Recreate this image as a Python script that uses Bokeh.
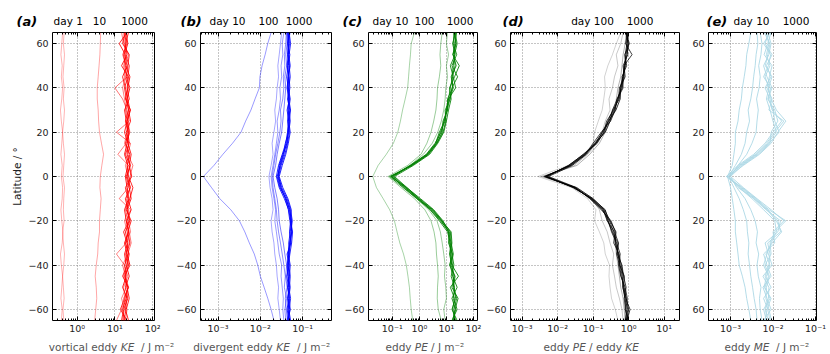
from bokeh.plotting import figure
from bokeh.models import LogAxis, LinearAxis, FixedTicker, Range1d
from bokeh.layouts import row, column
from bokeh.embed import file_html
from bokeh.resources import INLINE
from bokeh.core.properties import value

FONT = "DejaVu Sans"

# latitude (deg), south to north
lat = [-65, -60, -55, -50, -45, -40, -35, -30, -25, -20, -15, -10, -5, 0,
       5, 10, 15, 20, 25, 30, 35, 40, 45, 50, 55, 60, 65]

# ---------------- (a) vortical eddy KE  [J m-2]
a_day1 = [0.38, 0.40, 0.37, 0.39, 0.41, 0.38, 0.36, 0.40, 0.42, 0.39, 0.37, 0.40, 0.41, 0.38,
          0.40, 0.37, 0.39, 0.41, 0.38, 0.36, 0.39, 0.41, 0.38, 0.40, 0.37, 0.39, 0.41]
a_day1b = [0.44, 0.42, 0.45, 0.43, 0.41, 0.44, 0.46, 0.43, 0.41, 0.45, 0.43, 0.44, 0.46, 0.42,
           0.44, 0.46, 0.43, 0.41, 0.44, 0.46, 0.43, 0.45, 0.42, 0.44, 0.46, 0.43, 0.45]
a_day10 = [2.9, 3.1, 3.3, 3.2, 3.0, 3.2, 3.5, 3.6, 3.9, 3.9, 4.1, 4.3, 4.0, 4.1,
           4.5, 5.0, 4.4, 3.9, 3.7, 3.6, 3.4, 3.4, 3.6, 3.8, 4.0, 4.1, 4.2]
a_late1 = [16, 18, 15, 20, 17, 22, 19, 24, 21, 18, 23, 20, 25, 22, 19, 24, 18, 21, 23, 20, 18, 16, 19, 17, 20, 18, 17]
a_late2 = [11, 15, 19, 17, 22, 18, 11, 20, 26, 23, 19, 24, 21, 27, 23, 12, 20, 25, 22, 19, 21, 23, 18, 20, 16, 21, 19]
a_late3 = [19, 21, 17, 23, 19, 16, 22, 27, 24, 20, 26, 13, 23, 25, 30, 22, 26, 11, 24, 21, 16, 10, 21, 18, 23, 17, 15]
a_late4 = [15, 17, 22, 19, 24, 20, 18, 22, 19, 25, 21, 27, 24, 20, 26, 21, 23, 20, 26, 23, 20, 18, 22, 24, 19, 13, 21]
a_late5 = [21, 14, 18, 23, 16, 21, 24, 19, 23, 21, 27, 22, 19, 28, 24, 27, 22, 18, 21, 25, 22, 19, 16, 21, 18, 22, 20]
a_late6 = [17, 20, 24, 21, 19, 23, 20, 25, 22, 27, 20, 25, 30, 23, 21, 25, 19, 23, 20, 18, 24, 21, 23, 15, 21, 19, 23]
a_late7 = [23, 19, 21, 16, 20, 18, 23, 21, 17, 24, 22, 19, 26, 21, 25, 19, 24, 22, 19, 23, 21, 25, 20, 22, 24, 16, 19]
a_late8 = [18, 16, 20, 22, 18, 25, 21, 18, 23, 20, 18, 23, 21, 19, 22, 18, 21, 24, 21, 26, 19, 22, 25, 19, 17, 20, 18]

# ---------------- (b) divergent eddy KE  [J m-2]
b_day10 = [0.021, 0.018, 0.015, 0.0123, 0.010, 0.0087, 0.0072, 0.0055, 0.0043, 0.0032, 0.0020, 0.0011, 0.0007, 0.00045,
           0.0008, 0.0013, 0.0022, 0.0035, 0.0045, 0.006, 0.0075, 0.0095, 0.0098, 0.011, 0.013, 0.015, 0.018]
b_mid1 = [0.030, 0.028, 0.026, 0.027, 0.025, 0.024, 0.022, 0.021, 0.019, 0.018, 0.020, 0.019, 0.017, 0.016,
          0.018, 0.020, 0.019, 0.021, 0.023, 0.022, 0.024, 0.025, 0.027, 0.026, 0.028, 0.030, 0.032]
b_mid2 = [0.036, 0.034, 0.035, 0.033, 0.031, 0.032, 0.028, 0.026, 0.024, 0.022, 0.023, 0.021, 0.019, 0.018,
          0.020, 0.022, 0.024, 0.026, 0.025, 0.028, 0.030, 0.029, 0.032, 0.031, 0.034, 0.033, 0.036]
b_mid3 = [0.040, 0.038, 0.042, 0.037, 0.039, 0.036, 0.033, 0.030, 0.027, 0.025, 0.024, 0.022, 0.020, 0.019,
          0.021, 0.023, 0.026, 0.029, 0.031, 0.030, 0.034, 0.036, 0.035, 0.038, 0.037, 0.040, 0.041]
b_mid4 = [0.044, 0.041, 0.039, 0.043, 0.040, 0.042, 0.038, 0.035, 0.031, 0.028, 0.027, 0.025, 0.022, 0.020,
          0.023, 0.025, 0.028, 0.032, 0.034, 0.036, 0.038, 0.040, 0.038, 0.042, 0.040, 0.043, 0.042]
b_late1 = [0.046, 0.050, 0.044, 0.048, 0.045, 0.043, 0.047, 0.052, 0.055, 0.054, 0.050, 0.040, 0.030, 0.026,
           0.029, 0.035, 0.042, 0.046, 0.049, 0.045, 0.048, 0.044, 0.047, 0.043, 0.046, 0.049, 0.045]
b_late2 = [0.050, 0.045, 0.049, 0.044, 0.048, 0.046, 0.050, 0.055, 0.058, 0.052, 0.047, 0.037, 0.028, 0.024,
           0.027, 0.033, 0.040, 0.044, 0.046, 0.050, 0.044, 0.048, 0.045, 0.049, 0.044, 0.047, 0.050]
b_late3 = [0.043, 0.048, 0.052, 0.047, 0.042, 0.049, 0.045, 0.050, 0.053, 0.057, 0.052, 0.043, 0.032, 0.027,
           0.031, 0.038, 0.044, 0.049, 0.044, 0.047, 0.051, 0.046, 0.042, 0.046, 0.050, 0.044, 0.047]
b_late4 = [0.048, 0.043, 0.047, 0.051, 0.046, 0.044, 0.049, 0.047, 0.051, 0.055, 0.049, 0.041, 0.029, 0.025,
           0.030, 0.036, 0.039, 0.047, 0.051, 0.048, 0.046, 0.050, 0.048, 0.044, 0.048, 0.052, 0.048]
b_late5 = [0.052, 0.047, 0.045, 0.049, 0.051, 0.047, 0.043, 0.053, 0.049, 0.052, 0.054, 0.045, 0.034, 0.028,
           0.033, 0.040, 0.046, 0.051, 0.047, 0.043, 0.049, 0.047, 0.051, 0.048, 0.045, 0.046, 0.044]
b_late6 = [0.045, 0.051, 0.048, 0.045, 0.049, 0.051, 0.046, 0.049, 0.056, 0.050, 0.046, 0.039, 0.031, 0.027,
           0.028, 0.034, 0.043, 0.045, 0.048, 0.052, 0.047, 0.043, 0.046, 0.051, 0.047, 0.045, 0.049]

# ---------------- (c) eddy PE  [J m-2]
c_day10 = [0.57, 0.50, 0.46, 0.43, 0.38, 0.33, 0.26, 0.19, 0.15, 0.12, 0.08, 0.046, 0.026, 0.019,
           0.030, 0.060, 0.11, 0.16, 0.20, 0.24, 0.30, 0.37, 0.40, 0.43, 0.47, 0.50, 0.66]
c_day100 = [6.5, 5.0, 4.6, 4.7, 5.0, 4.7, 4.3, 4.1, 3.5, 2.7, 1.6, 0.66, 0.21, 0.07,
            0.37, 1.15, 1.9, 2.7, 3.4, 4.1, 4.5, 4.7, 5.5, 6.2, 5.8, 6.2, 7.0]
c_day300 = [9.0, 8.0, 10, 9.5, 8.5, 9.0, 8.0, 7.0, 6.0, 4.5, 2.2, 0.8, 0.3, 0.09,
            0.45, 1.4, 3.0, 4.8, 6.5, 8.0, 9.0, 9.5, 11, 10, 12, 10, 11]
c_late1 = [18, 22, 16, 25, 17, 14, 15, 13, 12, 6.5, 2.8, 0.95, 0.30, 0.09, 0.50, 2.0, 4.2, 6.0, 9.0, 10, 12, 14, 17, 21, 19, 22, 20]
c_late2 = [22, 17, 20, 14, 28, 16, 13, 15, 14, 7.0, 3.0, 0.85, 0.27, 0.10, 0.45, 1.8, 3.8, 6.5, 8.0, 11, 13, 18, 15, 23, 18, 20, 24]
c_late3 = [16, 25, 18, 20, 15, 19, 16, 14, 11, 5.5, 2.5, 0.80, 0.25, 0.08, 0.55, 2.2, 4.5, 7.5, 9.5, 9.0, 14, 16, 26, 16, 24, 18, 19]
c_late4 = [20, 19, 24, 18, 21, 13, 17, 12, 13, 6.0, 2.6, 0.90, 0.32, 0.11, 0.48, 1.9, 4.0, 5.5, 8.5, 10, 12, 22, 18, 14, 21, 17, 22]
c_late5 = [25, 16, 22, 19, 18, 17, 14, 16, 15, 6.8, 3.2, 1.0, 0.35, 0.12, 0.60, 2.4, 4.8, 8.0, 10, 12, 15, 13, 20, 30, 17, 23, 19]
c_late6 = [17, 21, 27, 16, 20, 15, 18, 15, 12, 7.5, 3.4, 1.1, 0.34, 0.09, 0.52, 2.1, 4.4, 7.0, 7.5, 11, 11, 17, 16, 18, 20, 25, 21]

# ---------------- (d) eddy PE / eddy KE
d_early1 = [0.50, 0.42, 0.33, 0.30, 0.28, 0.29, 0.22, 0.20, 0.15, 0.11, 0.12, 0.07, 0.025, 0.0028,
            0.020, 0.055, 0.10, 0.11, 0.14, 0.18, 0.20, 0.22, 0.21, 0.26, 0.35, 0.45, 0.60]
d_early2 = [0.70, 0.65, 0.55, 0.45, 0.40, 0.35, 0.38, 0.30, 0.25, 0.18, 0.15, 0.09, 0.030, 0.0040,
            0.030, 0.070, 0.13, 0.18, 0.22, 0.30, 0.28, 0.35, 0.40, 0.50, 0.45, 0.60, 0.70]
d_early3 = [0.80, 0.75, 0.70, 0.60, 0.55, 0.50, 0.45, 0.42, 0.35, 0.25, 0.20, 0.10, 0.035, 0.0035,
            0.035, 0.080, 0.15, 0.22, 0.30, 0.40, 0.45, 0.50, 0.60, 0.65, 0.70, 0.80, 0.85]
d_late1 = [0.85, 0.95, 0.78, 0.70, 0.66, 0.58, 0.50, 0.44, 0.38, 0.29, 0.18, 0.085, 0.030, 0.0045,
           0.022, 0.058, 0.11, 0.19, 0.28, 0.40, 0.50, 0.62, 0.72, 0.78, 0.85, 0.95, 0.88]
d_late2 = [1.00, 0.80, 0.85, 0.75, 0.62, 0.55, 0.46, 0.50, 0.35, 0.26, 0.20, 0.090, 0.028, 0.0050,
           0.020, 0.055, 0.12, 0.21, 0.26, 0.36, 0.55, 0.58, 0.68, 0.82, 0.78, 1.05, 0.85]
d_late3 = [0.90, 1.10, 0.82, 0.68, 0.70, 0.62, 0.54, 0.38, 0.42, 0.32, 0.17, 0.080, 0.032, 0.0042,
           0.024, 0.062, 0.10, 0.17, 0.31, 0.42, 0.47, 0.66, 0.75, 0.70, 0.95, 0.88, 0.92]
d_late4 = [0.80, 0.88, 0.92, 0.80, 0.60, 0.52, 0.58, 0.46, 0.33, 0.27, 0.22, 0.095, 0.027, 0.0048,
           0.021, 0.052, 0.13, 0.20, 0.24, 0.38, 0.52, 0.55, 0.80, 0.74, 1.25, 0.82, 0.95]
d_late5 = [0.95, 0.82, 0.75, 0.85, 0.72, 0.65, 0.48, 0.52, 0.40, 0.25, 0.19, 0.088, 0.031, 0.0044,
           0.023, 0.060, 0.115, 0.22, 0.30, 0.35, 0.48, 0.70, 0.65, 0.88, 0.80, 0.90, 1.00]
d_late6 = [0.88, 1.00, 0.86, 0.72, 0.76, 0.56, 0.52, 0.42, 0.44, 0.30, 0.21, 0.10, 0.034, 0.0055,
           0.026, 0.065, 0.12, 0.18, 0.27, 0.44, 0.58, 0.60, 0.70, 0.76, 0.90, 1.00, 0.84]

# ---------------- (e) eddy ME  [J m-2]
e_early1 = [0.0030, 0.0027, 0.0024, 0.0022, 0.0019, 0.0016, 0.0015, 0.0014, 0.0013, 0.0013, 0.0012, 0.0011, 0.0010, 0.00085,
            0.0011, 0.0012, 0.0013, 0.0013, 0.0015, 0.0016, 0.0018, 0.0019, 0.0021, 0.0023, 0.0024, 0.0027, 0.0030]
e_early2 = [0.0042, 0.0040, 0.0036, 0.0033, 0.0030, 0.0028, 0.0026, 0.0027, 0.0025, 0.0024, 0.0020, 0.0016, 0.0012, 0.00090,
            0.0013, 0.0018, 0.0022, 0.0024, 0.0028, 0.0026, 0.0030, 0.0033, 0.0035, 0.0038, 0.0040, 0.0044, 0.0042]
e_early3 = [0.0055, 0.0050, 0.0048, 0.0052, 0.0045, 0.0042, 0.0046, 0.0040, 0.0043, 0.0038, 0.0030, 0.0022, 0.0014, 0.0010,
            0.0015, 0.0024, 0.0032, 0.0040, 0.0042, 0.0045, 0.0041, 0.0047, 0.0050, 0.0046, 0.0052, 0.0055, 0.0050]
e_late1 = [0.0070, 0.0060, 0.0085, 0.0065, 0.0078, 0.0060, 0.0072, 0.0090, 0.012, 0.011, 0.0060, 0.0032, 0.0016, 0.0009,
           0.0017, 0.0040, 0.0075, 0.012, 0.010, 0.0085, 0.0070, 0.0080, 0.0065, 0.0085, 0.0070, 0.0080, 0.0068]
e_late2 = [0.0085, 0.0075, 0.0060, 0.0090, 0.0065, 0.0080, 0.0085, 0.0075, 0.015, 0.013, 0.0075, 0.0038, 0.0018, 0.0008,
           0.0015, 0.0035, 0.0065, 0.010, 0.016, 0.0095, 0.0085, 0.0065, 0.0090, 0.0070, 0.0095, 0.0065, 0.0080]
e_late3 = [0.0060, 0.0090, 0.0072, 0.0058, 0.0090, 0.0072, 0.0060, 0.011, 0.010, 0.018, 0.0090, 0.0042, 0.0020, 0.0010,
           0.0019, 0.0045, 0.0085, 0.0090, 0.013, 0.011, 0.0075, 0.0095, 0.0072, 0.0060, 0.0080, 0.0090, 0.0075]
e_late4 = [0.0078, 0.0065, 0.0078, 0.0080, 0.0058, 0.0095, 0.0078, 0.0065, 0.013, 0.015, 0.0068, 0.0035, 0.0017, 0.0009,
           0.0016, 0.0038, 0.0070, 0.011, 0.018, 0.0080, 0.0095, 0.0072, 0.0082, 0.0095, 0.0062, 0.0075, 0.0090]
e_late5 = [0.0092, 0.0080, 0.0068, 0.0070, 0.0082, 0.0065, 0.0090, 0.0085, 0.011, 0.020, 0.0080, 0.0040, 0.0019, 0.0008,
           0.0018, 0.0042, 0.0080, 0.014, 0.011, 0.0100, 0.0078, 0.0088, 0.0060, 0.0078, 0.0088, 0.0060, 0.0085]
e_late6 = [0.0065, 0.0072, 0.0090, 0.0062, 0.0070, 0.0085, 0.0068, 0.0095, 0.016, 0.012, 0.0072, 0.0036, 0.0015, 0.0009,
           0.0020, 0.0048, 0.0090, 0.013, 0.020, 0.012, 0.0090, 0.0078, 0.0095, 0.0066, 0.0075, 0.0085, 0.0062]

lat_ticks = [-60, -40, -20, 0, 20, 40, 60]
lat_labels_signed = ["\u221260", "\u221240", "\u221220", "0", "20", "40", "60"]
lat_labels_abs = ["60", "40", "20", "0", "20", "40", "60"]

# header / footer texts
panel_letters = ["(a)", "(b)", "(c)", "(d)", "(e)"]
day_texts = ["day 1", "10", "1000", "day 10", "100", "1000", "day 10", "100", "1000",
             "day 100", "1000", "day 10", "1000"]
xlab_plain = ["vortical eddy", "/ J m\u207b\u00b2", "divergent eddy", "/ J m\u207b\u00b2",
              "eddy", "/ J m\u207b\u00b2", "eddy", "/ eddy", "eddy", "/ J m\u207b\u00b2"]
xlab_italic = ["KE", "KE", "PE", "PE", "KE", "ME"]

# page-pixel layout of those texts
letter_px = [16, 180, 342, 502, 706]
day_px = [67.7, 99, 134, 227, 268, 298.5, 390, 424, 459.5, 592, 639.5, 751, 795.5]
plain_px = [48.3, 140.5, 192.7, 296.5, 385, 430.5, 543, 588.6, 724, 775.5]
italic_px = [120.3, 275.8, 414.3, 572.3, 624.8, 753.3]

SUP = {"-": "\u207b", "0": "\u2070", "1": "\u00b9", "2": "\u00b2", "3": "\u00b3"}


def pow_label(k):
    return "10" + "".join(SUP[c] for c in str(k))


HEAD_H = 31
MAIN_H = 305   # 1 top border + 290 frame + 14 bottom border
FOOT_H = 18


def make_panel(spec):
    lo, hi = spec["logrange"]
    p = figure(width=spec["width"], height=MAIN_H, x_axis_type="log",
               x_range=Range1d(10 ** lo, 10 ** hi), y_range=Range1d(-65, 65),
               output_backend="svg", toolbar_location=None,
               min_border_left=spec["bl"], min_border_right=spec["br"],
               min_border_top=1, min_border_bottom=14)
    p.outline_line_color = "black"
    p.outline_line_width = 1
    p.outline_line_alpha = 1

    decs = spec["decades"]
    major = [10.0 ** k for k in decs]
    minor = [m * 10.0 ** k for k in range(decs[0] - 1, decs[-1] + 1) for m in range(2, 10)]

    xa = p.xaxis[0]
    xa.ticker = FixedTicker(ticks=major, minor_ticks=minor)
    xa.major_label_overrides = {t: pow_label(k) for t, k in zip(major, decs)}
    ya = p.yaxis[0]
    ya.ticker = FixedTicker(ticks=lat_ticks, minor_ticks=[])
    ya.major_label_overrides = dict(zip(lat_ticks, spec["ylabels"]))

    top = LogAxis(ticker=FixedTicker(ticks=major, minor_ticks=minor),
                  major_label_overrides={t: "" for t in major})
    right = LinearAxis(ticker=FixedTicker(ticks=lat_ticks, minor_ticks=[]),
                       major_label_overrides={v: "" for v in lat_ticks})
    p.add_layout(top, "above")
    p.add_layout(right, "right")

    for ax in (xa, ya, top, right):
        ax.axis_line_color = None
        ax.major_tick_in = 4
        ax.major_tick_out = 0
        ax.minor_tick_in = 2
        ax.minor_tick_out = 0
        ax.major_tick_line_color = "black"
        ax.minor_tick_line_color = "black"
        ax.major_label_text_font = FONT
        ax.major_label_text_font_size = "9.5px"
        ax.major_label_text_color = "#222222"
    for ax in (top, right):
        ax.major_label_standoff = 0
        ax.major_label_text_font_size = "0px"
    xa.major_label_standoff = 2
    ya.major_label_standoff = 4

    p.xgrid.ticker = FixedTicker(ticks=major)
    p.ygrid.ticker = FixedTicker(ticks=lat_ticks)
    p.grid.grid_line_color = "#808080"
    p.grid.grid_line_dash = "1 2"
    p.grid.grid_line_alpha = 0.9

    for vals, color, alpha in spec["lines"]:
        p.line(x=vals, y=lat, line_color=color, line_alpha=alpha, line_width=1)
    return p, ya


RED, BLUE, GREEN, BLACK, LBLUE = "#ff0000", "#0000ff", "#008000", "#000000", "#add8e6"

specs = [
    dict(width=173, bl=52, br=19, logrange=(-0.655, 2.05), decades=[0, 1, 2], ylabels=lat_labels_signed,
         lines=[(a_day1, RED, 0.3), (a_day1b, RED, 0.3), (a_day10, RED, 0.35),
                (a_late1, RED, 0.5), (a_late2, RED, 0.5), (a_late3, RED, 0.55),
                (a_late4, RED, 0.85), (a_late5, RED, 0.85), (a_late6, RED, 0.85),
                (a_late7, RED, 0.85), (a_late8, RED, 0.9)]),
    dict(width=168, bl=26, br=10, logrange=(-3.415, -0.316), decades=[-3, -2, -1], ylabels=lat_labels_signed,
         lines=[(b_day10, BLUE, 0.4), (b_mid1, BLUE, 0.35), (b_mid2, BLUE, 0.4),
                (b_mid3, BLUE, 0.45), (b_mid4, BLUE, 0.5),
                (b_late1, BLUE, 0.85), (b_late2, BLUE, 0.85), (b_late3, BLUE, 0.85),
                (b_late4, BLUE, 0.85), (b_late5, BLUE, 0.85), (b_late6, BLUE, 0.85)]),
    dict(width=142, bl=26, br=6, logrange=(-1.879, 2.15), decades=[-1, 0, 1, 2], ylabels=lat_labels_signed,
         lines=[(c_day10, GREEN, 0.35), (c_day100, GREEN, 0.4), (c_day300, GREEN, 0.4),
                (c_late1, GREEN, 0.85), (c_late2, GREEN, 0.85), (c_late3, GREEN, 0.85),
                (c_late4, GREEN, 0.85), (c_late5, GREEN, 0.85), (c_late6, GREEN, 0.85)]),
    dict(width=199, bl=26, br=3, logrange=(-3.328, 1.434), decades=[-3, -2, -1, 0, 1], ylabels=lat_labels_signed,
         lines=[(d_early1, BLACK, 0.18), (d_early2, BLACK, 0.22), (d_early3, BLACK, 0.3),
                (d_late1, BLACK, 0.75), (d_late2, BLACK, 0.75), (d_late3, BLACK, 0.75),
                (d_late4, BLACK, 0.75), (d_late5, BLACK, 0.75), (d_late6, BLACK, 0.8)]),
    dict(width=148, bl=26, br=14, logrange=(-3.518, -0.977), decades=[-3, -2, -1], ylabels=lat_labels_abs,
         lines=[(e_early1, LBLUE, 0.9), (e_early2, LBLUE, 0.9), (e_early3, LBLUE, 0.9),
                (e_late1, LBLUE, 0.9), (e_late2, LBLUE, 0.9), (e_late3, LBLUE, 0.9),
                (e_late4, LBLUE, 0.9), (e_late5, LBLUE, 0.9), (e_late6, LBLUE, 0.9)]),
]

figs = []
for i, s in enumerate(specs):
    p, ya = make_panel(s)
    if i == 0:
        ya.axis_label = "Latitude / \u00b0"
        ya.axis_label_text_font = FONT
        ya.axis_label_text_font_size = "10.5px"
        ya.axis_label_text_font_style = "normal"
        ya.axis_label_text_color = "#222222"
        ya.axis_label_standoff = 2
    figs.append(p)

TOTAL_W = sum(s["width"] for s in specs)


def strip(height, page_top):
    """A bare strip whose data coordinates are page pixels (for panel texts)."""
    s = figure(width=TOTAL_W, height=height, x_range=Range1d(0, TOTAL_W),
               y_range=Range1d(page_top + height, page_top),
               x_axis_type=None, y_axis_type=None, output_backend="svg",
               toolbar_location=None, min_border=0)
    s.min_border_left = s.min_border_right = s.min_border_top = s.min_border_bottom = 0
    s.outline_line_color = None
    s.grid.visible = False
    return s


header = strip(HEAD_H, 0)
header.text(x=letter_px, y=[20.5] * len(letter_px), text=panel_letters,
            text_font=value(FONT), text_font_size=value("13px"), text_font_style="bold italic",
            text_align="left", text_baseline="alphabetic", text_color="black")
header.text(x=day_px, y=[20.5] * len(day_px), text=day_texts,
            text_font=value(FONT), text_font_size=value("10.5px"),
            text_align="center", text_baseline="alphabetic", text_color="black")

foot_top = HEAD_H + MAIN_H
footer = strip(FOOT_H, foot_top)
footer.text(x=plain_px, y=[346] * len(plain_px), text=xlab_plain,
            text_font=value(FONT), text_font_size=value("10.5px"),
            text_align="left", text_baseline="alphabetic", text_color="#555555")
footer.text(x=italic_px, y=[346] * len(italic_px), text=xlab_italic,
            text_font=value(FONT), text_font_size=value("10.5px"), text_font_style="italic",
            text_align="left", text_baseline="alphabetic", text_color="#555555")

layout = column(header, row(*figs, spacing=0), footer, spacing=0)
open("out.html", "w").write(file_html(layout, INLINE))
